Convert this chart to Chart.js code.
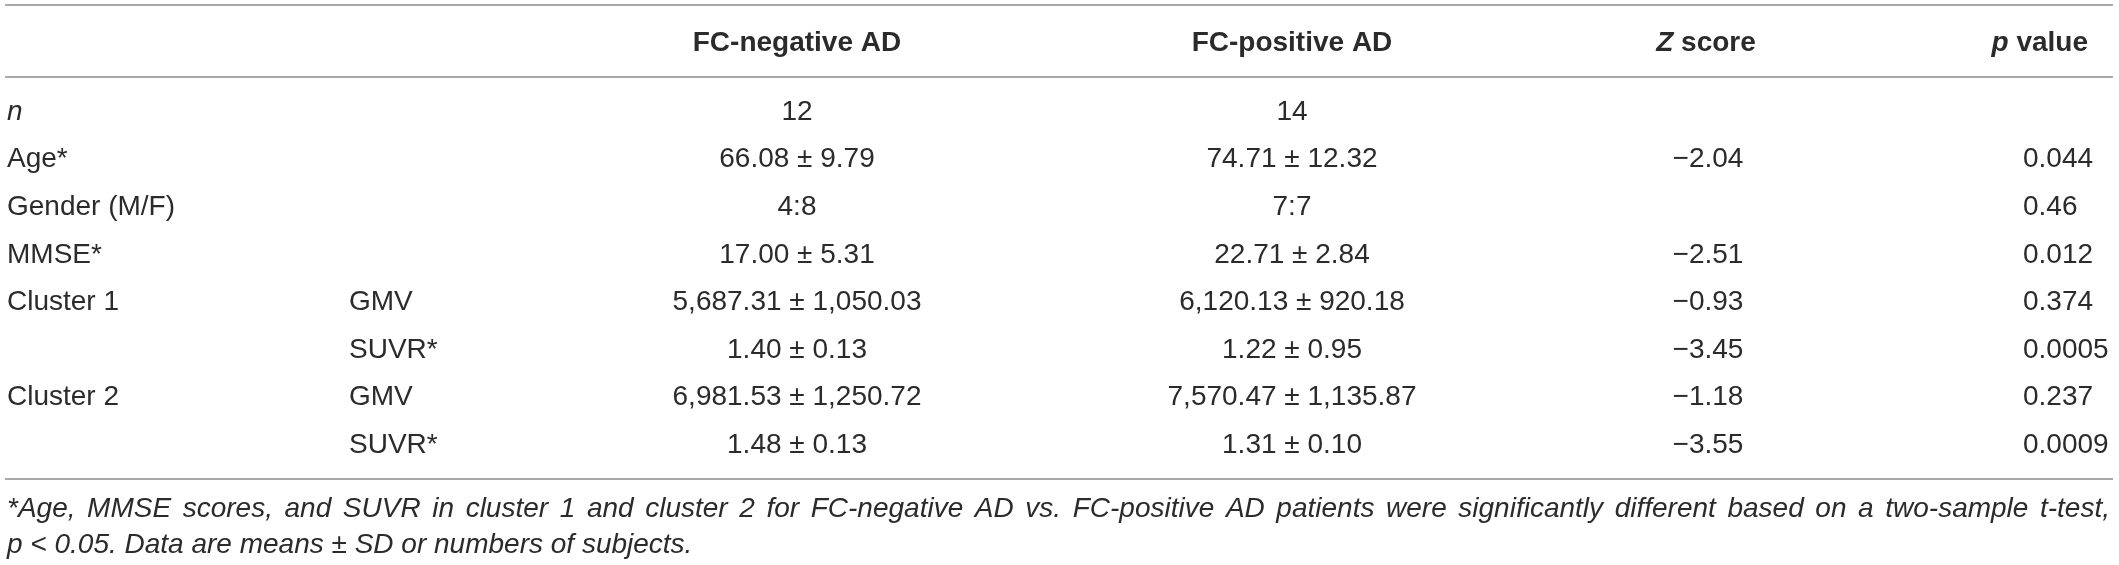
<!DOCTYPE html>
<html>
<head>
<meta charset="utf-8">
<script src="https://cdn.jsdelivr.net/npm/chart.js@4.4.1/dist/chart.umd.min.js"></script>
<style>
  html, body { margin: 0; padding: 0; background: #fff; }
  #wrap { width: 2119px; height: 565px; position: relative; }
</style>
</head>
<body>
<div id="wrap"><canvas id="chart"></canvas></div>
<script>
// table content (underscores mark italic runs)
const headers = ['', '', 'FC-negative AD', 'FC-positive AD', '_Z_ score', '_p_ value'];
const rowLabels = ['_n_', 'Age*', 'Gender (M/F)', 'MMSE*', 'Cluster 1', '', 'Cluster 2', ''];
const measures = ['', '', '', '', 'GMV', 'SUVR*', 'GMV', 'SUVR*'];
const fcNegative = ['12', '66.08 ± 9.79', '4:8', '17.00 ± 5.31', '5,687.31 ± 1,050.03', '1.40 ± 0.13', '6,981.53 ± 1,250.72', '1.48 ± 0.13'];
const fcPositive = ['14', '74.71 ± 12.32', '7:7', '22.71 ± 2.84', '6,120.13 ± 920.18', '1.22 ± 0.95', '7,570.47 ± 1,135.87', '1.31 ± 0.10'];
const zScores = ['', '−2.04', '', '−2.51', '−0.93', '−3.45', '−1.18', '−3.55'];
const pValues = ['', '0.044', '0.46', '0.012', '0.374', '0.0005', '0.237', '0.0009'];
const footnote = [
  '*Age, MMSE scores, and SUVR in cluster 1 and cluster 2 for FC-negative AD vs. FC-positive AD patients were significantly different based on a two-sample t-test,',
  'p < 0.05. Data are means ± SD or numbers of subjects.'
];

// layout (not data)
const columns = [rowLabels, measures, fcNegative, fcPositive, zScores, pValues];
const colX = [7, 349, 797, 1292, 1708, 2023];
const colAlign = ['left', 'left', 'center', 'center', 'center', 'left'];
const headX = [7, 349, 797, 1292, 1706, 2088];
const headAlign = ['left', 'left', 'center', 'center', 'center', 'right'];
const HEADER_ROW = -1.45;
const ruleRows = [-2.25, -0.735, 7.71];
const footRows = [8.34, 9.1];

const FONT = '"Liberation Sans", Arial, sans-serif';
const TEXT = '#2b2b2b';
const SIZE = 28;

function runs(str) {
  // split "_x_ rest" into [{t, italic}]
  const parts = str.split('_');
  return parts.map((t, i) => ({ t: t, italic: i % 2 === 1 })).filter(p => p.t.length);
}

function drawRich(ctx, str, x, y, align, size, bold) {
  const rs = runs(str);
  let total = 0;
  rs.forEach(r => {
    ctx.font = (r.italic ? 'italic ' : '') + (bold ? 'bold ' : '') + size + 'px ' + FONT;
    r.w = ctx.measureText(r.t).width;
    total += r.w;
  });
  let cx = x;
  if (align === 'center') cx = x - total / 2;
  if (align === 'right') cx = x - total;
  rs.forEach(r => {
    ctx.font = (r.italic ? 'italic ' : '') + (bold ? 'bold ' : '') + size + 'px ' + FONT;
    ctx.fillText(r.t, cx, y);
    cx += r.w;
  });
}

const datasets = [];
// horizontal rules
ruleRows.forEach(r => {
  datasets.push({
    type: 'line',
    data: [{ x: 5, y: r }, { x: 2113, y: r }],
    borderColor: '#a8a8a8',
    borderWidth: 2,
    pointRadius: 0,
    clip: false
  });
});
// header cells
datasets.push({
  data: headers.map((h, c) => ({ x: headX[c], y: HEADER_ROW })),
  cells: headers, aligns: headAlign, bold: true, pointRadius: 0
});
// body cells, one dataset per column
columns.forEach((col, c) => {
  datasets.push({
    data: col.map((v, r) => ({ x: colX[c], y: r })),
    cells: col, aligns: col.map(() => colAlign[c]), bold: false, pointRadius: 0
  });
});
// footnote anchors
datasets.push({
  data: footnote.map((f, i) => ({ x: 7, y: footRows[i] })),
  cells: footnote, footnote: true, pointRadius: 0
});

const tableText = {
  id: 'tableText',
  afterDatasetsDraw(chart) {
    const ctx = chart.ctx;
    ctx.save();
    ctx.fillStyle = TEXT;
    ctx.textBaseline = 'middle';
    ctx.textAlign = 'left';
    chart.data.datasets.forEach((ds, di) => {
      if (!ds.cells) return;
      const meta = chart.getDatasetMeta(di);
      meta.data.forEach((el, i) => {
        const txt = ds.cells[i];
        if (!txt) return;
        if (ds.footnote) {
          ctx.font = 'italic ' + SIZE + 'px ' + FONT;
          if (i === 0) {
            // justify the first line to the table width
            const words = txt.split(' ');
            const ww = words.map(w => ctx.measureText(w).width);
            const sum = ww.reduce((a, b) => a + b, 0);
            const gap = (2110 - el.x - sum) / (words.length - 1);
            let cx = el.x;
            words.forEach((w, k) => { ctx.fillText(w, cx, el.y); cx += ww[k] + gap; });
          } else {
            ctx.fillText(txt, el.x, el.y);
          }
          return;
        }
        drawRich(ctx, txt, el.x, el.y, ds.aligns[i], SIZE, ds.bold);
      });
    });
    ctx.restore();
  }
};

new Chart(document.getElementById('chart'), {
  type: 'scatter',
  data: { datasets: datasets },
  options: {
    responsive: true,
    maintainAspectRatio: false,
    animation: false,
    events: [],
    layout: { padding: { left: 7, right: 0, top: 2.52, bottom: 84.1 } },
    plugins: { legend: { display: false }, tooltip: { enabled: false } },
    scales: {
      x: { type: 'linear', min: 7, max: 2119, display: false },
      y: { type: 'linear', min: -2.3, max: 7.75, reverse: true, display: false }
    }
  },
  plugins: [tableText]
});
</script>
</body>
</html>
